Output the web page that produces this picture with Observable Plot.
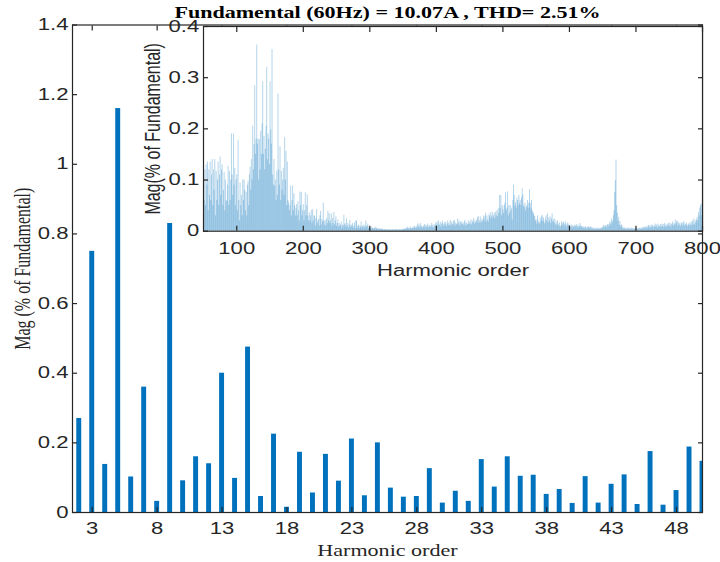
<!DOCTYPE html>
<html><head><meta charset="utf-8">
<script src="https://cdn.jsdelivr.net/npm/d3@7"></script>
<script src="https://cdn.jsdelivr.net/npm/@observablehq/plot@0.6"></script>
<style>
html,body{margin:0;padding:0;background:#fff;}
#wrap{position:relative;width:720px;height:562px;overflow:hidden;background:#fff;}
#wrap > div{position:absolute;left:0;top:0;}
</style></head><body>
<div id="wrap"><div id="main"></div><div id="inset"></div></div>
<script>
// ---------- data ----------
const titleText = "Fundamental (60Hz) = 10.07A , THD= 2.51%";
const mainXLabel = "Harmonic order";
const mainYLabel = "Mag (% of Fundamental)";
const insetXLabel = "Harmonic order";
const insetYLabel = "Mag(% of Fundamental)";

const mainOrders = d3.range(2, 51);
const mainValues = [0.27, 0.75, 0.138, 1.16, 0.102, 0.36, 0.032, 0.83, 0.091, 0.16,
  0.14, 0.40, 0.098, 0.475, 0.046, 0.225, 0.015, 0.173, 0.056, 0.167,
  0.09, 0.211, 0.048, 0.20, 0.07, 0.044, 0.046, 0.126, 0.027, 0.061,
  0.032, 0.152, 0.073, 0.16, 0.104, 0.107, 0.052, 0.066, 0.026, 0.103,
  0.027, 0.081, 0.108, 0.023, 0.175, 0.021, 0.063, 0.188, 0.147];
const mainXTicks = [3, 8, 13, 18, 23, 28, 33, 38, 43, 48];
const mainYTicks = [0, 0.2, 0.4, 0.6, 0.8, 1, 1.2, 1.4];

const insetXTicks = [100, 200, 300, 400, 500, 600, 700, 800];
const insetYTicks = [0, 0.1, 0.2, 0.3, 0.4];

// inset: harmonic orders 50..800, one value per order, in blocks of 50
const inset050 = [0.13, 0.06, 0.12, 0.05, 0.13, 0.09, 0.135, 0.04, 0.12, 0.07,
 0.135, 0.06, 0.11, 0.14, 0.05, 0.12, 0.08, 0.14, 0.03, 0.117,
 0.06, 0.1, 0.135, 0.05, 0.11, 0.145, 0.07, 0.12, 0.13, 0.05,
 0.08, 0.115, 0.04, 0.1, 0.06, 0.058, 0.09, 0.127, 0.05, 0.117,
 0.06, 0.1, 0.19, 0.11, 0.07, 0.19, 0.09, 0.123, 0.05, 0.1];
const inset100 = [0.11, 0.04, 0.177, 0.06, 0.02, 0.094, 0.05, 0.07, 0.03, 0.1,
 0.06, 0.1, 0.08, 0.04, 0.076, 0.03, 0.09, 0.097, 0.05, 0.11,
 0.125, 0.08, 0.14, 0.1, 0.205, 0.12, 0.169, 0.284, 0.15, 0.18,
 0.364, 0.17, 0.18, 0.1, 0.179, 0.12, 0.195, 0.15, 0.21, 0.292,
 0.15, 0.185, 0.12, 0.16, 0.205, 0.32, 0.14, 0.19, 0.18, 0.13];
const inset150 = [0.292, 0.198, 0.17, 0.355, 0.11, 0.09, 0.14, 0.088, 0.1, 0.06,
 0.117, 0.07, 0.268, 0.12, 0.09, 0.165, 0.06, 0.117, 0.08, 0.1,
 0.123, 0.07, 0.183, 0.1, 0.156, 0.05, 0.135, 0.06, 0.055, 0.04,
 0.05, 0.088, 0.03, 0.06, 0.088, 0.04, 0.073, 0.05, 0.03, 0.045,
 0.052, 0.03, 0.058, 0.04, 0.02, 0.076, 0.05, 0.076, 0.03, 0.04];
const inset200 = [0.052, 0.02, 0.04, 0.075, 0.03, 0.05, 0.071, 0.03, 0.02, 0.036,
 0.02, 0.03, 0.041, 0.015, 0.042, 0.02, 0.03, 0.029, 0.01, 0.025,
 0.042, 0.015, 0.02, 0.023, 0.01, 0.03, 0.039, 0.012, 0.023, 0.018,
 0.055, 0.02, 0.012, 0.021, 0.01, 0.025, 0.015, 0.039, 0.02, 0.034,
 0.015, 0.02, 0.034, 0.01, 0.025, 0.015, 0.037, 0.012, 0.02, 0.028];
const inset250 = [0.01, 0.015, 0.022, 0.008, 0.015, 0.01, 0.012, 0.018, 0.006, 0.012,
 0.01, 0.031, 0.012, 0.015, 0.008, 0.024, 0.01, 0.015, 0.006, 0.012,
 0.021, 0.008, 0.012, 0.01, 0.015, 0.006, 0.01, 0.016, 0.005, 0.02,
 0.02, 0.006, 0.01, 0.012, 0.005, 0.01, 0.008, 0.018, 0.006, 0.01,
 0.008, 0.012, 0.006, 0.01, 0.02, 0.008, 0.01, 0.014, 0.005, 0.008];
const inset300 = [0.006, 0.004, 0.008, 0.005, 0.006, 0.004, 0.005, 0.006, 0.004, 0.008,
 0.005, 0.004, 0.005, 0.003, 0.004, 0.005, 0.003, 0.004, 0.003, 0.004,
 0.003, 0.002, 0.003, 0.003, 0.002, 0.003, 0.002, 0.003, 0.002, 0.003,
 0.002, 0.003, 0.002, 0.002, 0.003, 0.002, 0.003, 0.002, 0.002, 0.003,
 0.003, 0.002, 0.003, 0.002, 0.003, 0.003, 0.002, 0.003, 0.002, 0.003];
const inset350 = [0.003, 0.004, 0.003, 0.004, 0.005, 0.004, 0.006, 0.008, 0.004, 0.005,
 0.005, 0.008, 0.004, 0.006, 0.005, 0.008, 0.006, 0.01, 0.005, 0.008,
 0.006, 0.01, 0.014, 0.008, 0.012, 0.006, 0.015, 0.008, 0.01, 0.006,
 0.008, 0.01, 0.013, 0.006, 0.012, 0.008, 0.01, 0.014, 0.006, 0.01,
 0.011, 0.007, 0.01, 0.015, 0.008, 0.012, 0.006, 0.012, 0.009, 0.016];
const inset400 = [0.012, 0.018, 0.01, 0.02, 0.014, 0.011, 0.017, 0.008, 0.014, 0.02,
 0.014, 0.01, 0.016, 0.012, 0.018, 0.009, 0.014, 0.02, 0.011, 0.016,
 0.012, 0.021, 0.01, 0.018, 0.014, 0.012, 0.02, 0.021, 0.01, 0.016,
 0.014, 0.012, 0.024, 0.015, 0.02, 0.01, 0.018, 0.014, 0.018, 0.012,
 0.016, 0.012, 0.018, 0.021, 0.01, 0.016, 0.012, 0.014, 0.02, 0.013];
const inset450 = [0.018, 0.014, 0.022, 0.012, 0.02, 0.017, 0.025, 0.014, 0.02, 0.016,
 0.022, 0.018, 0.026, 0.029, 0.015, 0.02, 0.028, 0.016, 0.022, 0.018,
 0.024, 0.03, 0.02, 0.028, 0.035, 0.018, 0.03, 0.022, 0.018, 0.032,
 0.028, 0.036, 0.024, 0.03, 0.037, 0.026, 0.03, 0.035, 0.024, 0.037,
 0.03, 0.04, 0.028, 0.044, 0.035, 0.07, 0.045, 0.07, 0.03, 0.05];
const inset500 = [0.042, 0.035, 0.05, 0.055, 0.075, 0.04, 0.045, 0.077, 0.03, 0.05,
 0.035, 0.05, 0.04, 0.045, 0.022, 0.06, 0.09, 0.07, 0.05, 0.056,
 0.045, 0.065, 0.06, 0.05, 0.07, 0.054, 0.06, 0.05, 0.065, 0.083,
 0.07, 0.05, 0.046, 0.055, 0.04, 0.047, 0.05, 0.06, 0.045, 0.055,
 0.081, 0.054, 0.045, 0.06, 0.04, 0.037, 0.034, 0.03, 0.028, 0.02];
const inset550 = [0.022, 0.014, 0.03, 0.02, 0.016, 0.014, 0.025, 0.018, 0.028, 0.031,
 0.02, 0.026, 0.018, 0.014, 0.024, 0.03, 0.02, 0.034, 0.016, 0.026,
 0.02, 0.028, 0.015, 0.024, 0.034, 0.018, 0.022, 0.016, 0.024, 0.012,
 0.018, 0.012, 0.02, 0.014, 0.01, 0.016, 0.008, 0.01, 0.018, 0.012,
 0.016, 0.018, 0.01, 0.014, 0.018, 0.008, 0.012, 0.016, 0.01, 0.014];
const inset600 = [0.01, 0.011, 0.008, 0.012, 0.006, 0.011, 0.009, 0.007, 0.012, 0.01,
 0.008, 0.013, 0.01, 0.006, 0.011, 0.008, 0.015, 0.01, 0.009, 0.006,
 0.009, 0.006, 0.008, 0.005, 0.009, 0.007, 0.004, 0.008, 0.006, 0.009,
 0.007, 0.005, 0.009, 0.006, 0.004, 0.006, 0.005, 0.003, 0.006, 0.004,
 0.005, 0.003, 0.006, 0.004, 0.005, 0.003, 0.006, 0.004, 0.005, 0.006];
const inset650 = [0.008, 0.011, 0.006, 0.01, 0.009, 0.011, 0.007, 0.012, 0.013, 0.009,
 0.014, 0.018, 0.012, 0.024, 0.016, 0.02, 0.03, 0.04, 0.076, 0.099,
 0.139, 0.05, 0.035, 0.02, 0.027, 0.012, 0.019, 0.008, 0.012, 0.011,
 0.006, 0.004, 0.007, 0.005, 0.003, 0.006, 0.004, 0.005, 0.003, 0.006,
 0.004, 0.005, 0.003, 0.006, 0.004, 0.005, 0.003, 0.004, 0.005, 0.003];
const inset700 = [0.004, 0.006, 0.003, 0.005, 0.004, 0.006, 0.003, 0.005, 0.004, 0.007,
 0.005, 0.008, 0.004, 0.007, 0.009, 0.005, 0.008, 0.006, 0.01, 0.011,
 0.007, 0.01, 0.006, 0.012, 0.008, 0.011, 0.006, 0.01, 0.009, 0.014,
 0.008, 0.012, 0.006, 0.014, 0.009, 0.011, 0.007, 0.013, 0.008, 0.014,
 0.009, 0.013, 0.007, 0.015, 0.01, 0.012, 0.008, 0.014, 0.01, 0.015];
const inset750 = [0.01, 0.016, 0.008, 0.014, 0.012, 0.018, 0.01, 0.015, 0.012, 0.022,
 0.014, 0.018, 0.02, 0.01, 0.016, 0.012, 0.015, 0.009, 0.014, 0.017,
 0.011, 0.015, 0.019, 0.01, 0.014, 0.012, 0.016, 0.009, 0.012, 0.014,
 0.01, 0.016, 0.012, 0.018, 0.011, 0.02, 0.014, 0.024, 0.012, 0.02,
 0.016, 0.022, 0.027, 0.02, 0.037, 0.03, 0.045, 0.05, 0.053, 0.03];
const inset800 = [0.027];

// ---------- build tables ----------
const mainData = mainOrders.map((h, i) => ({h, v: mainValues[i]}));
const insetBlocks = [inset050, inset100, inset150, inset200, inset250, inset300, inset350,
  inset400, inset450, inset500, inset550, inset600, inset650, inset700, inset750, inset800];
const insetData = insetBlocks.flatMap((arr, k) => arr.map((v, i) => ({h: 50 + 50 * k + i, v})));

const SANS = "'Liberation Sans', Arial, Helvetica, sans-serif";
const SERIF = "'Liberation Serif', 'Times New Roman', serif";
const AX = "#262626";
const BLUE = "#0072BD";
const STRETCH = 1.38;
const fmt = d => String(d);
const blank = () => "";

function stretchText(svg, s) {
  svg.querySelectorAll("text").forEach(t => {
    const tr = t.getAttribute("transform") || "";
    const m = tr.match(/^\s*translate\(([^)]*)\)(.*)$/);
    if (m) {
      t.setAttribute("transform", `translate(${m[1]}) scale(${s},1)${m[2]}`);
    } else {
      const x = +t.getAttribute("x") || 0, y = +t.getAttribute("y") || 0;
      t.setAttribute("transform", `translate(${x},${y}) scale(${s},1) translate(${-x},${-y}) ${tr}`);
    }
  });
}

// ---------- main chart ----------
const main = Plot.plot({
  width: 720, height: 562,
  marginLeft: 72, marginRight: 18, marginTop: 24.5, marginBottom: 50,
  style: {fontFamily: SANS, fontSize: "16px", color: AX, background: "transparent", overflow: "visible"},
  x: {type: "linear", domain: [1.48, 50.0]},
  y: {domain: [0, 1.4]},
  marks: [
    Plot.rectY(mainData, {x1: d => d.h - 0.19, x2: d => d.h + 0.19, y: "v", fill: BLUE, clip: true}),
    Plot.axisX({ticks: mainXTicks, tickSize: -5, tickPadding: 15.5, tickFormat: fmt, label: null, stroke: AX, strokeWidth: 1.2}),
    Plot.axisX({anchor: "top", ticks: mainXTicks, tickSize: -5, tickFormat: blank, label: null, stroke: AX, strokeWidth: 1.2}),
    Plot.axisY({ticks: mainYTicks, tickSize: -5, tickPadding: 9, tickFormat: fmt, label: null, stroke: AX, strokeWidth: 1.2}),
    Plot.axisY({anchor: "right", ticks: mainYTicks, tickSize: -5, tickFormat: blank, label: null, stroke: AX, strokeWidth: 1.2}),
    Plot.frame({stroke: AX, strokeWidth: 1.2}),
    Plot.text([mainXLabel], {frameAnchor: "bottom", lineAnchor: "middle", textAnchor: "middle", dy: 38, fontFamily: SERIF, fontSize: 16, fill: AX}),
    Plot.text([mainYLabel], {frameAnchor: "left", lineAnchor: "middle", textAnchor: "middle", dx: -50, rotate: -90, fontFamily: SERIF, fontSize: 16, fill: AX}),
    Plot.text([titleText], {frameAnchor: "top", lineAnchor: "bottom", textAnchor: "middle", dy: -6.8, fontFamily: SERIF, fontWeight: "bold", fontSize: 16, fill: "#000"})
  ]
});
stretchText(main, STRETCH);
document.getElementById("main").appendChild(main);

// ---------- inset chart ----------
const inset = Plot.plot({
  width: 720, height: 290,
  marginLeft: 203, marginRight: 18, marginTop: 26, marginBottom: 59.3,
  style: {fontFamily: SANS, fontSize: "16px", color: AX, background: "transparent", overflow: "visible"},
  x: {type: "linear", domain: [50, 800]},
  y: {domain: [0, 0.4]},
  marks: [
    Plot.frame({fill: "#fff", stroke: null}),
    Plot.ruleX(insetData, {x: "h", y: "v", stroke: BLUE, strokeWidth: 0.5, strokeOpacity: 0.6}),
    Plot.axisX({ticks: insetXTicks, tickSize: -5, tickPadding: 16, tickFormat: fmt, label: null, stroke: AX, strokeWidth: 1.2}),
    Plot.axisX({anchor: "top", ticks: insetXTicks, tickSize: -5, tickFormat: blank, label: null, stroke: AX, strokeWidth: 1.2}),
    Plot.axisY({ticks: insetYTicks, tickSize: -5, tickPadding: 9.3, tickFormat: fmt, label: null, stroke: AX, strokeWidth: 1.2}),
    Plot.axisY({anchor: "right", ticks: insetYTicks, tickSize: -5, tickFormat: blank, label: null, stroke: AX, strokeWidth: 1.2}),
    Plot.frame({stroke: AX, strokeWidth: 1.2}),
    Plot.text([insetXLabel], {frameAnchor: "bottom", lineAnchor: "middle", textAnchor: "middle", dy: 40, fontFamily: SANS, fontSize: 16, fill: AX}),
    Plot.text([insetYLabel], {frameAnchor: "left", lineAnchor: "middle", textAnchor: "middle", dx: -51, rotate: -90, fontFamily: SANS, fontSize: 16, fill: AX})
  ]
});
stretchText(inset, STRETCH);
document.getElementById("inset").appendChild(inset);
</script>
</body></html>
